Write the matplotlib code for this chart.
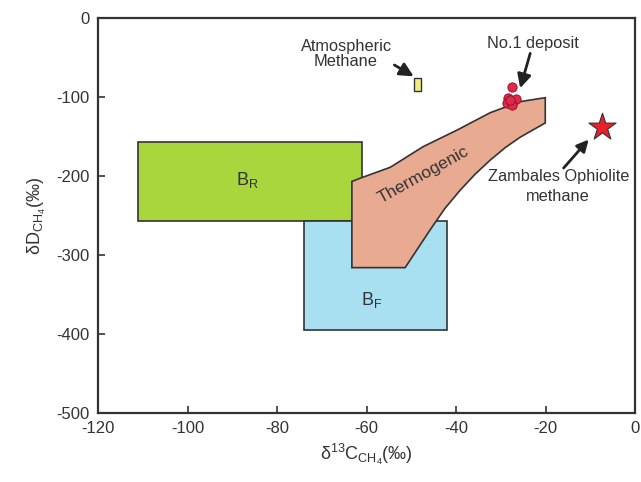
import matplotlib
matplotlib.use('Agg')
import matplotlib.pyplot as plt
from matplotlib.patches import Rectangle, Polygon

plt.rcParams['font.family'] = ['Liberation Sans', 'DejaVu Sans']
plt.rcParams['mathtext.default'] = 'regular'
plt.rcParams['axes.unicode_minus'] = False

# fields (x range, y range)
br_x = [-111, -61]
br_y = [-257, -157]
bf_x = [-74, -42]
bf_y = [-395, -257]
atm_x = [-49.4, -47.8]
atm_y = [-93, -76]

# thermogenic outline
thermo_x = [-63.3, -61.5, -54.7, -47.4, -39.8, -32.4, -25.7, -20.1,
            -20.1, -25.7, -29.0, -32.4, -35.8, -39.1, -42.5, -45.8, -48.6, -51.4, -63.3]
thermo_y = [-207, -203, -189, -163, -142, -120, -106, -101,
            -133, -151, -164, -180, -198, -218, -241, -268, -292, -316, -316]

# No.1 deposit samples
dep_c = [-27.6, -28.4, -27.3, -26.6, -28.6, -27.6, -27.9]
dep_d = [-88, -101, -105, -103, -108, -110, -104]

# Zambales ophiolite methane
zam_c = [-7.4]
zam_d = [-137.6]

fig = plt.figure(figsize=(6.41, 4.82), dpi=100)
ax = fig.add_axes([0.153, 0.143, 0.838, 0.820])

ax.add_patch(Rectangle((br_x[0], br_y[0]), br_x[1] - br_x[0], br_y[1] - br_y[0],
                       facecolor='#a8d63c', edgecolor='#333333', lw=1.2, zorder=2))
ax.add_patch(Rectangle((bf_x[0], bf_y[0]), bf_x[1] - bf_x[0], bf_y[1] - bf_y[0],
                       facecolor='#a8e0f2', edgecolor='#333333', lw=1.2, zorder=2))
ax.add_patch(Polygon(list(zip(thermo_x, thermo_y)), closed=True,
                     facecolor='#e8aa90', edgecolor='#333333', lw=1.2, zorder=3))
ax.add_patch(Rectangle((atm_x[0], atm_y[0]), atm_x[1] - atm_x[0], atm_y[1] - atm_y[0],
                       facecolor='#eeee80', edgecolor='#333333', lw=1.0, zorder=3))

ax.scatter(dep_c, dep_d, s=45, color='#e0284a', edgecolor='#8a1020', lw=0.6, zorder=5)
ax.scatter(zam_c, zam_d, s=420, marker='*', color='#e8202a', edgecolor='#333333',
           lw=0.8, zorder=5)

fs = 11.8
ax.text(-86.7, -205, '$B_R$', fontsize=13, ha='center', va='center', color='#333333')
ax.text(-58.8, -357, '$B_F$', fontsize=13, ha='center', va='center', color='#333333')
ax.text(-47.4, -198, 'Thermogenic', fontsize=12.5, rotation=29, ha='center', va='center',
        color='#333333', zorder=6)

arrow = dict(arrowstyle='-|>,head_width=0.35,head_length=0.7', color='#222222', lw=2)
ax.annotate('Atmospheric\nMethane', xy=(-49.5, -74), xytext=(-64.6, -46),
            fontsize=fs, ha='center', va='center', color='#333333',
            linespacing=1.05, arrowprops=dict(arrow, shrinkA=0, shrinkB=0,
                                              relpos=(1.0, 0.2)))
ax.annotate('No.1 deposit', xy=(-25.7, -89), xytext=(-22.8, -32),
            fontsize=fs, ha='center', va='center', color='#333333',
            arrowprops=dict(arrow, shrinkA=0, shrinkB=0))
ax.annotate('', xy=(-10.4, -154), xytext=(-16, -190),
            arrowprops=dict(arrow, shrinkA=0, shrinkB=0))
ax.text(-17.2, -213, 'Zambales Ophiolite\nmethane', fontsize=fs, ha='center',
        va='center', color='#333333', linespacing=1.4)

ax.set_xlim(-120, 0)
ax.set_ylim(-500, 0)
ax.set_xticks([-120, -100, -80, -60, -40, -20, 0])
ax.set_yticks([-500, -400, -300, -200, -100, 0])
ax.tick_params(direction='in', length=5, width=1.2, labelsize=12,
               colors='#333333', pad=6)
for s in ax.spines.values():
    s.set_linewidth(1.6)
    s.set_color('#333333')

ax.set_xlabel('$\\delta^{13}C_{CH_4}$(‰)', fontsize=13, color='#333333', labelpad=4)
ax.set_ylabel('$\\delta D_{CH_4}$(‰)', fontsize=13, color='#333333', labelpad=6)

fig.savefig('out.png', dpi=100)
